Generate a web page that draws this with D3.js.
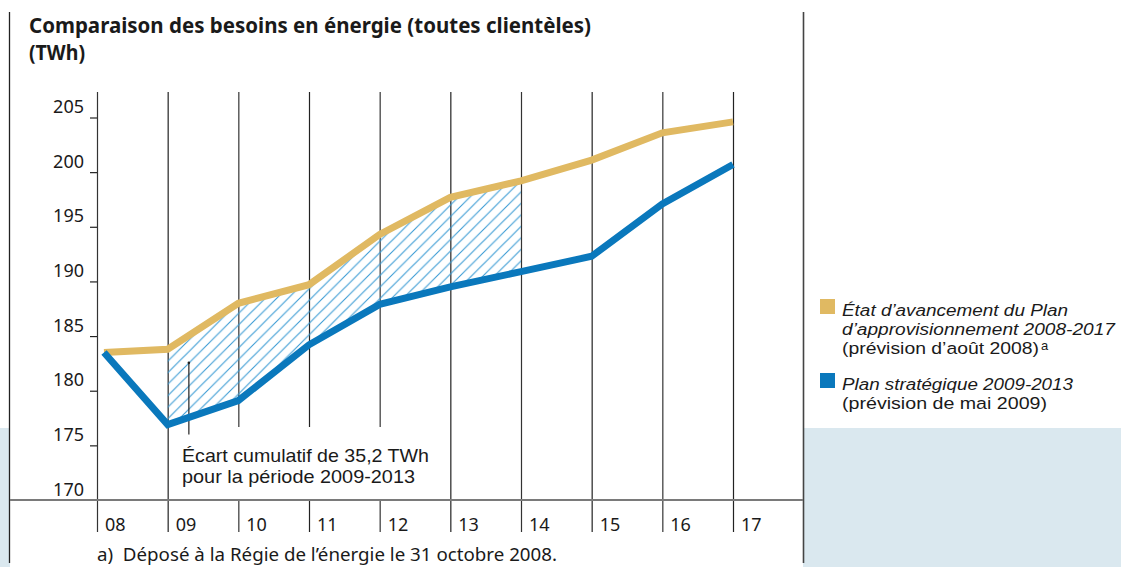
<!DOCTYPE html>
<html><head><meta charset="utf-8">
<script src="https://cdn.jsdelivr.net/npm/d3@7"></script>
<style>
html,body{margin:0;padding:0;background:#fff;}
svg{display:block;}
text{font-family:"Noto Sans",sans-serif;fill:#1a1a1a;}
text.leg{font-family:"Liberation Sans",Arial,sans-serif;}
</style></head>
<body>
<svg id="c" width="1121" height="567"></svg>
<script>
const years = ["08","09","10","11","12","13","14","15","16","17"];
const planAppro = [183.5,183.8,188.0,189.7,194.3,197.7,199.2,201.1,203.6,204.6];
const planStrat = [183.5,176.9,179.1,184.2,187.9,189.5,190.9,192.3,197.1,200.7];
const yTicks = [170,175,180,185,190,195,200,205];
const gapYears = ["09","10","11","12","13","14"];
const titleLines = ["Comparaison des besoins en énergie (toutes clientèles)","(TWh)"];
const noteLines = ["Écart cumulatif de 35,2 TWh","pour la période 2009-2013"];
const footnote = "a)\u00a0 Déposé à la Régie de l’énergie le 31 octobre 2008.";
const legendItems = [
  {color:"#e0b962", italic:["État d’avancement du Plan","d’approvisionnement 2008-2017"], normal:"(prévision d’août 2008)", sup:"a"},
  {color:"#0a78bc", italic:["Plan stratégique 2009-2013"], normal:"(prévision de mai 2009)", sup:null}
];

const GOLD="#e0b962", BLUE="#0a78bc", HATCH="#3a9bd4", BG="#dae8ef";
const svg = d3.select("#c");

// background panels
svg.append("rect").attr("x",0).attr("y",428).attr("width",1121).attr("height",139).attr("fill",BG);
svg.append("rect").attr("x",10).attr("y",0).attr("width",793).attr("height",567).attr("fill","#fff");
svg.append("line").attr("x1",9.5).attr("x2",9.5).attr("y1",12).attr("y2",563).attr("stroke","#222").attr("stroke-width",1.3);
svg.append("line").attr("x1",803.5).attr("x2",803.5).attr("y1",12).attr("y2",563).attr("stroke","#444").attr("stroke-width",1.6);

const x = d3.scalePoint().domain(years).range([97,733]);
const y = d3.scaleLinear().domain([170,205]).range([500,117.5]);
const step = x.step();
const firstInset = 7;
const px = (d,i) => x(years[i]) + (i===0 ? firstInset : 0);

function fit(sel, w){ sel.each(function(){ const l=this.getComputedTextLength(); if(Math.abs(l-w)>2){ d3.select(this).attr("textLength",w).attr("lengthAdjust","spacingAndGlyphs"); } }); }

// title
const tW=[562,56];
titleLines.forEach((t,i)=>{
  svg.append("text").attr("x",29).attr("y",33+i*26.5).attr("font-size",21).attr("font-weight",700).text(t).call(fit,tW[i]);
});

// hatch pattern
const defs = svg.append("defs");
const hs = 11.5;
const pat = defs.append("pattern").attr("id","hatch").attr("patternUnits","userSpaceOnUse").attr("width",hs).attr("height",hs);
pat.append("path").attr("d",`M-1,1 l2,-2 M0,${hs} l${hs},-${hs} M${hs-1},${hs+1} l2,-2`).attr("stroke",HATCH).attr("stroke-width",1.1);

// vertical gridlines
svg.append("g").selectAll("line").data(years).join("line")
  .attr("x1",d=>x(d)+0.5).attr("x2",d=>x(d)+0.5).attr("y1",92).attr("y2",532)
  .attr("stroke",(d,i)=>i%2?"#222":"#333").attr("stroke-width",1.2);

// white box behind annotation
svg.append("rect").attr("x",x("09")+2.5).attr("y",427).attr("width",x("13")-x("09")-5).attr("height",y(170)-428).attr("fill","#fff");

// x axis line
svg.append("line").attr("x1",10).attr("x2",803).attr("y1",y(170)).attr("y2",y(170)).attr("stroke","#7a7a7a").attr("stroke-width",2);

// y ticks
const yt = svg.append("g");
yt.selectAll("line").data(yTicks.filter(v=>v>170)).join("line")
  .attr("x1",90).attr("x2",x("08")).attr("y1",d=>y(d)+0.5).attr("y2",d=>y(d)+0.5).attr("stroke","#222").attr("stroke-width",1.2);
yt.selectAll("text").data(yTicks).join("text")
  .attr("x",84).attr("y",d=>y(d)-4.5).attr("text-anchor","end").attr("font-size",18).text(d=>d);

// x labels
svg.append("g").selectAll("text").data(years).join("text")
  .attr("x",d=>x(d)+8).attr("y",531).attr("font-size",18).text(d=>d);

// hatched gap
const gi = gapYears.map(g=>years.indexOf(g));
svg.append("path").datum(gi)
  .attr("d", d3.area().x(i=>px(i,i)).y0(i=>y(planStrat[i])).y1(i=>y(planAppro[i])))
  .attr("fill","url(#hatch)");

// annotation leader
const ax = x("09") + step*0.3;
svg.append("line").attr("x1",ax).attr("x2",ax).attr("y1",y(182.55)).attr("y2",y(176.0)).attr("stroke","#222").attr("stroke-width",1.2);
svg.append("circle").attr("cx",ax).attr("cy",y(182.55)).attr("r",1.3).attr("fill","#222");
const nW=[247,233];
noteLines.forEach((t,i)=>{
  svg.append("text").attr("class","leg").attr("x",182).attr("y",462+i*21).attr("font-size",17.8).text(t)
    .attr("textLength",nW[i]).attr("lengthAdjust","spacingAndGlyphs");
});

// lines
const line = d3.line().x((d,i)=>px(d,i)).y(d=>y(d));
svg.append("path").datum(planAppro).attr("d",line).attr("fill","none").attr("stroke",GOLD).attr("stroke-width",7).attr("stroke-linejoin","miter");
svg.append("path").datum(planStrat).attr("d",line).attr("fill","none").attr("stroke",BLUE).attr("stroke-width",7).attr("stroke-linejoin","miter");

// legend
const lg = svg.append("g");
const legW = [[226,273],[231]];
const normW = [197,205];
const lfs = 16.8;
let ly = 316;
legendItems.forEach((it,k)=>{
  lg.append("rect").attr("x",820).attr("y",ly-17).attr("width",15).attr("height",15).attr("fill",it.color);
  it.italic.forEach((t,j)=>{
    lg.append("text").attr("class","leg").attr("x",842).attr("y",ly).attr("font-size",lfs).attr("font-style","italic").text(t)
      .attr("textLength",legW[k][j]).attr("lengthAdjust","spacingAndGlyphs");
    ly += 19;
  });
  lg.append("text").attr("class","leg").attr("x",842).attr("y",ly).attr("font-size",lfs).text(it.normal)
    .attr("textLength",normW[k]).attr("lengthAdjust","spacingAndGlyphs");
  if(it.sup){
    lg.append("text").attr("class","leg").attr("x",842+normW[k]+2).attr("y",ly-4).attr("font-size",13).text(it.sup);
  }
  ly += 36;
});

// footnote
svg.append("text").attr("x",97).attr("y",561).attr("font-size",18).text(footnote).call(fit,460);
</script>
</body></html>
